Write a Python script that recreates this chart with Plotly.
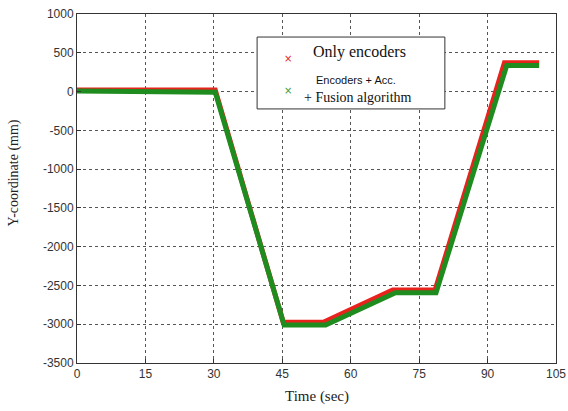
import plotly.graph_objects as go

# Data (vertices)
t_enc = [0, 15, 30.3, 45.2, 54.0, 69.2, 78.5, 93.7, 101.3]
y_enc = [20, 20, 20, -2975, -2975, -2560, -2560, 370, 370]
t_fus = [0, 15, 18, 30.3, 45.4, 54.5, 69.8, 78.7, 94.2, 101.3]
y_fus = [8, 8, -8, -8, -3010, -3010, -2595, -2595, 335, 335]

x_ticks = [0, 15, 30, 45, 60, 75, 90, 105]
y_ticks = [1000, 500, 0, -500, -1000, -1500, -2000, -2500, -3000, -3500]
y_tick_text = [str(v) for v in y_ticks]

fig = go.Figure()
fig.add_trace(go.Scatter(x=t_enc, y=y_enc, mode="lines",
                         line=dict(color="#e8231e", width=5), showlegend=False))
fig.add_trace(go.Scatter(x=t_fus, y=y_fus, mode="lines",
                         line=dict(color="#1e8c1e", width=5), showlegend=False))

tick_font = dict(family="Liberation Sans, Arial", size=12, color="#333333")
axis_common = dict(showline=True, linecolor="#333333", linewidth=1, mirror=True,
                   showgrid=True, gridcolor="#555555", griddash="dot", gridwidth=1,
                   zeroline=False, ticks="inside", ticklen=4, tickcolor="#333333",
                   tickfont=tick_font, automargin=False, ticklabeloverflow="allow")

fig.update_xaxes(range=[0, 105], tickvals=x_ticks, ticktext=[str(v) for v in x_ticks], **axis_common)
fig.update_yaxes(range=[-3500, 1000], tickvals=y_ticks, ticktext=y_tick_text, **axis_common)

# axis titles
fig.add_annotation(xref="paper", yref="paper", x=0.5, y=-0.095, text="Time (sec)", showarrow=False,
                   yanchor="middle", font=dict(family="Liberation Serif", size=15, color="#222222"))
fig.add_annotation(xref="paper", yref="paper", x=-0.131, y=0.544, text="Y-coordinate (mm)", showarrow=False,
                   textangle=-90, xanchor="center", yanchor="middle",
                   font=dict(family="Liberation Serif", size=14, color="#222222"))

# legend box
fig.add_shape(type="rect", xref="paper", yref="paper", x0=0.376, x1=0.768, y0=0.728, y1=0.934,
              line=dict(color="#333333", width=1), fillcolor="white", layer="above")
fig.add_annotation(xref="paper", yref="paper", x=0.441, y=0.894, text="×", showarrow=False,
                   font=dict(color="#e8231e", size=10, family="DejaVu Sans"))
fig.add_annotation(xref="paper", yref="paper", x=0.441, y=0.802, text="×", showarrow=False,
                   font=dict(color="#3a9a3a", size=10, family="DejaVu Sans"))
fig.add_annotation(xref="paper", yref="paper", x=0.489, y=0.891, text="Only encoders", showarrow=False,
                   xanchor="left", yanchor="middle", font=dict(color="#111111", size=16, family="Liberation Serif"))
fig.add_annotation(xref="paper", yref="paper", x=0.495, y=0.811, text="Encoders + Acc.", showarrow=False,
                   xanchor="left", yanchor="middle", font=dict(color="#111111", size=11, family="Liberation Sans"))
fig.add_annotation(xref="paper", yref="paper", x=0.470, y=0.762, text="+ Fusion algorithm", showarrow=False,
                   xanchor="left", yanchor="middle", font=dict(color="#111111", size=14, family="Liberation Serif"))

fig.update_layout(width=568, height=411, margin=dict(l=77, r=12, t=14, b=48),
                  plot_bgcolor="white", paper_bgcolor="white")
fig.write_html("out.html", config={"displayModeBar": False},
               post_script="document.body.style.margin='0';document.body.style.overflow='hidden';")
